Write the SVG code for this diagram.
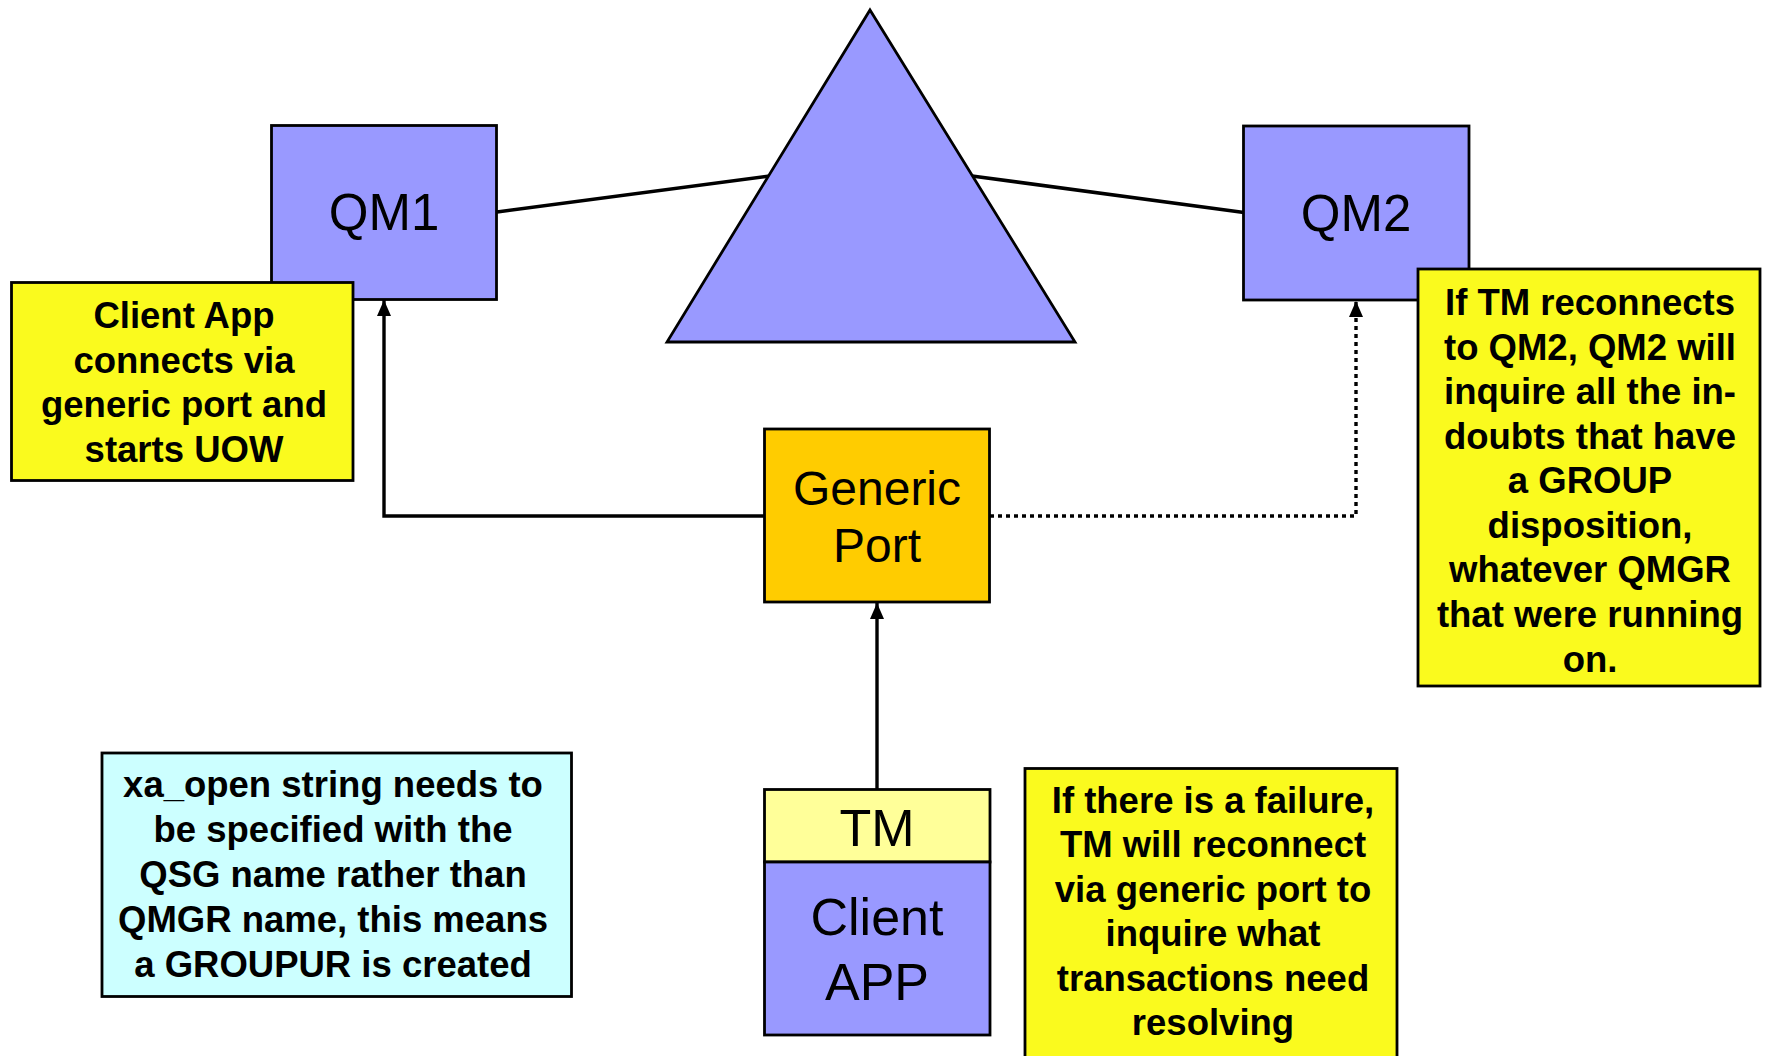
<svg xmlns="http://www.w3.org/2000/svg" width="1769" height="1056" viewBox="0 0 1769 1056">
  <defs>
    <style>
      .qm { fill: #9999FF; stroke: #000; stroke-width: 2.8; }
      .port { fill: #FFCC00; stroke: #000; stroke-width: 2.8; }
      .tm { fill: #FFFF99; stroke: #000; stroke-width: 2.8; }
      .note { fill: #FAFA1E; stroke: #000; stroke-width: 2.8; }
      .cyan { fill: #CCFFFF; stroke: #000; stroke-width: 2.8; }
      .label { font-family: "Liberation Sans", Arial, Helvetica, sans-serif; fill: #000; text-anchor: middle; }
      .big { font-size: 51px; }
      .gp { font-size: 48px; }
      .app { font-size: 52px; }
      .bold { font-size: 36.5px; font-weight: bold; }
      .link { fill: none; stroke: #000; stroke-width: 3.6; }
      .arrow { fill: none; stroke: #000; stroke-width: 3.4; }
      .dotted { stroke-dasharray: 4 4; }
    </style>
    <marker id="head" viewBox="0 0 16 14" refX="16" refY="7" markerWidth="16" markerHeight="14" markerUnits="userSpaceOnUse" orient="auto">
      <path d="M0,0 L16,7 L0,14 Z" fill="#000"/>
    </marker>
  </defs>

  <rect width="1769" height="1056" fill="#fff"/>

  <!-- connectors -->
  <g id="connectors">
    <line class="link" x1="497" y1="212" x2="770" y2="176"/>
    <line class="link" x1="972" y1="176" x2="1244" y2="212.5"/>
    <polyline class="arrow" points="765,516 384,516 384,300" marker-end="url(#head)"/>
    <polyline class="arrow dotted" points="990,516 1356,516 1356,301" marker-end="url(#head)"/>
    <line class="arrow" x1="877" y1="789" x2="877" y2="603" marker-end="url(#head)"/>
  </g>

  <!-- queue sharing group -->
  <g id="qsg">
    <polygon class="qm" points="870,10 1075,342 667,342"/>
  </g>

  <g id="qm1">
    <rect class="qm" x="271.5" y="125.5" width="225" height="174"/>
    <text class="label big" x="384" y="230">QM1</text>
  </g>

  <g id="qm2">
    <rect class="qm" x="1243.5" y="126" width="225.5" height="174"/>
    <text class="label big" x="1356" y="231">QM2</text>
  </g>

  <g id="generic-port">
    <rect class="port" x="764.5" y="429" width="225" height="173"/>
    <text class="label gp" x="877" y="505">Generic</text>
    <text class="label gp" x="877" y="562">Port</text>
  </g>

  <g id="tm">
    <rect class="tm" x="764.5" y="789.5" width="225.5" height="72.5"/>
    <text class="label app" x="877" y="846">TM</text>
  </g>

  <g id="client-app">
    <rect class="qm" x="764.5" y="862" width="225.5" height="173"/>
    <text class="label app" x="877" y="935">Client</text>
    <text class="label app" x="877" y="1000">APP</text>
  </g>

  <g id="note-client">
    <rect class="note" x="11.5" y="282.5" width="341.5" height="198"/>
    <text class="label bold" x="184" y="328">Client App</text>
    <text class="label bold" x="184" y="373">connects via</text>
    <text class="label bold" x="184" y="417">generic port and</text>
    <text class="label bold" x="184" y="462">starts UOW</text>
  </g>

  <g id="note-qm2">
    <rect class="note" x="1418" y="269" width="342" height="417"/>
    <text class="label bold" x="1590" y="315">If TM reconnects</text>
    <text class="label bold" x="1590" y="360">to QM2, QM2 will</text>
    <text class="label bold" x="1590" y="404">inquire all the in-</text>
    <text class="label bold" x="1590" y="449">doubts that have</text>
    <text class="label bold" x="1590" y="493">a GROUP</text>
    <text class="label bold" x="1590" y="538">disposition,</text>
    <text class="label bold" x="1590" y="582">whatever QMGR</text>
    <text class="label bold" x="1590" y="627">that were running</text>
    <text class="label bold" x="1590" y="672">on.</text>
  </g>

  <g id="note-xa">
    <rect class="cyan" x="102" y="753" width="469.5" height="243.5"/>
    <text class="label bold" x="333" y="797">xa_open string needs to</text>
    <text class="label bold" x="333" y="842">be specified with the</text>
    <text class="label bold" x="333" y="887">QSG name rather than</text>
    <text class="label bold" x="333" y="932">QMGR name, this means</text>
    <text class="label bold" x="333" y="977">a GROUPUR is created</text>
  </g>

  <g id="note-failure">
    <rect class="note" x="1025" y="768.5" width="372" height="300"/>
    <text class="label bold" x="1213" y="813">If there is a failure,</text>
    <text class="label bold" x="1213" y="857">TM will reconnect</text>
    <text class="label bold" x="1213" y="902">via generic port to</text>
    <text class="label bold" x="1213" y="946">inquire what</text>
    <text class="label bold" x="1213" y="991">transactions need</text>
    <text class="label bold" x="1213" y="1035">resolving</text>
  </g>
</svg>
